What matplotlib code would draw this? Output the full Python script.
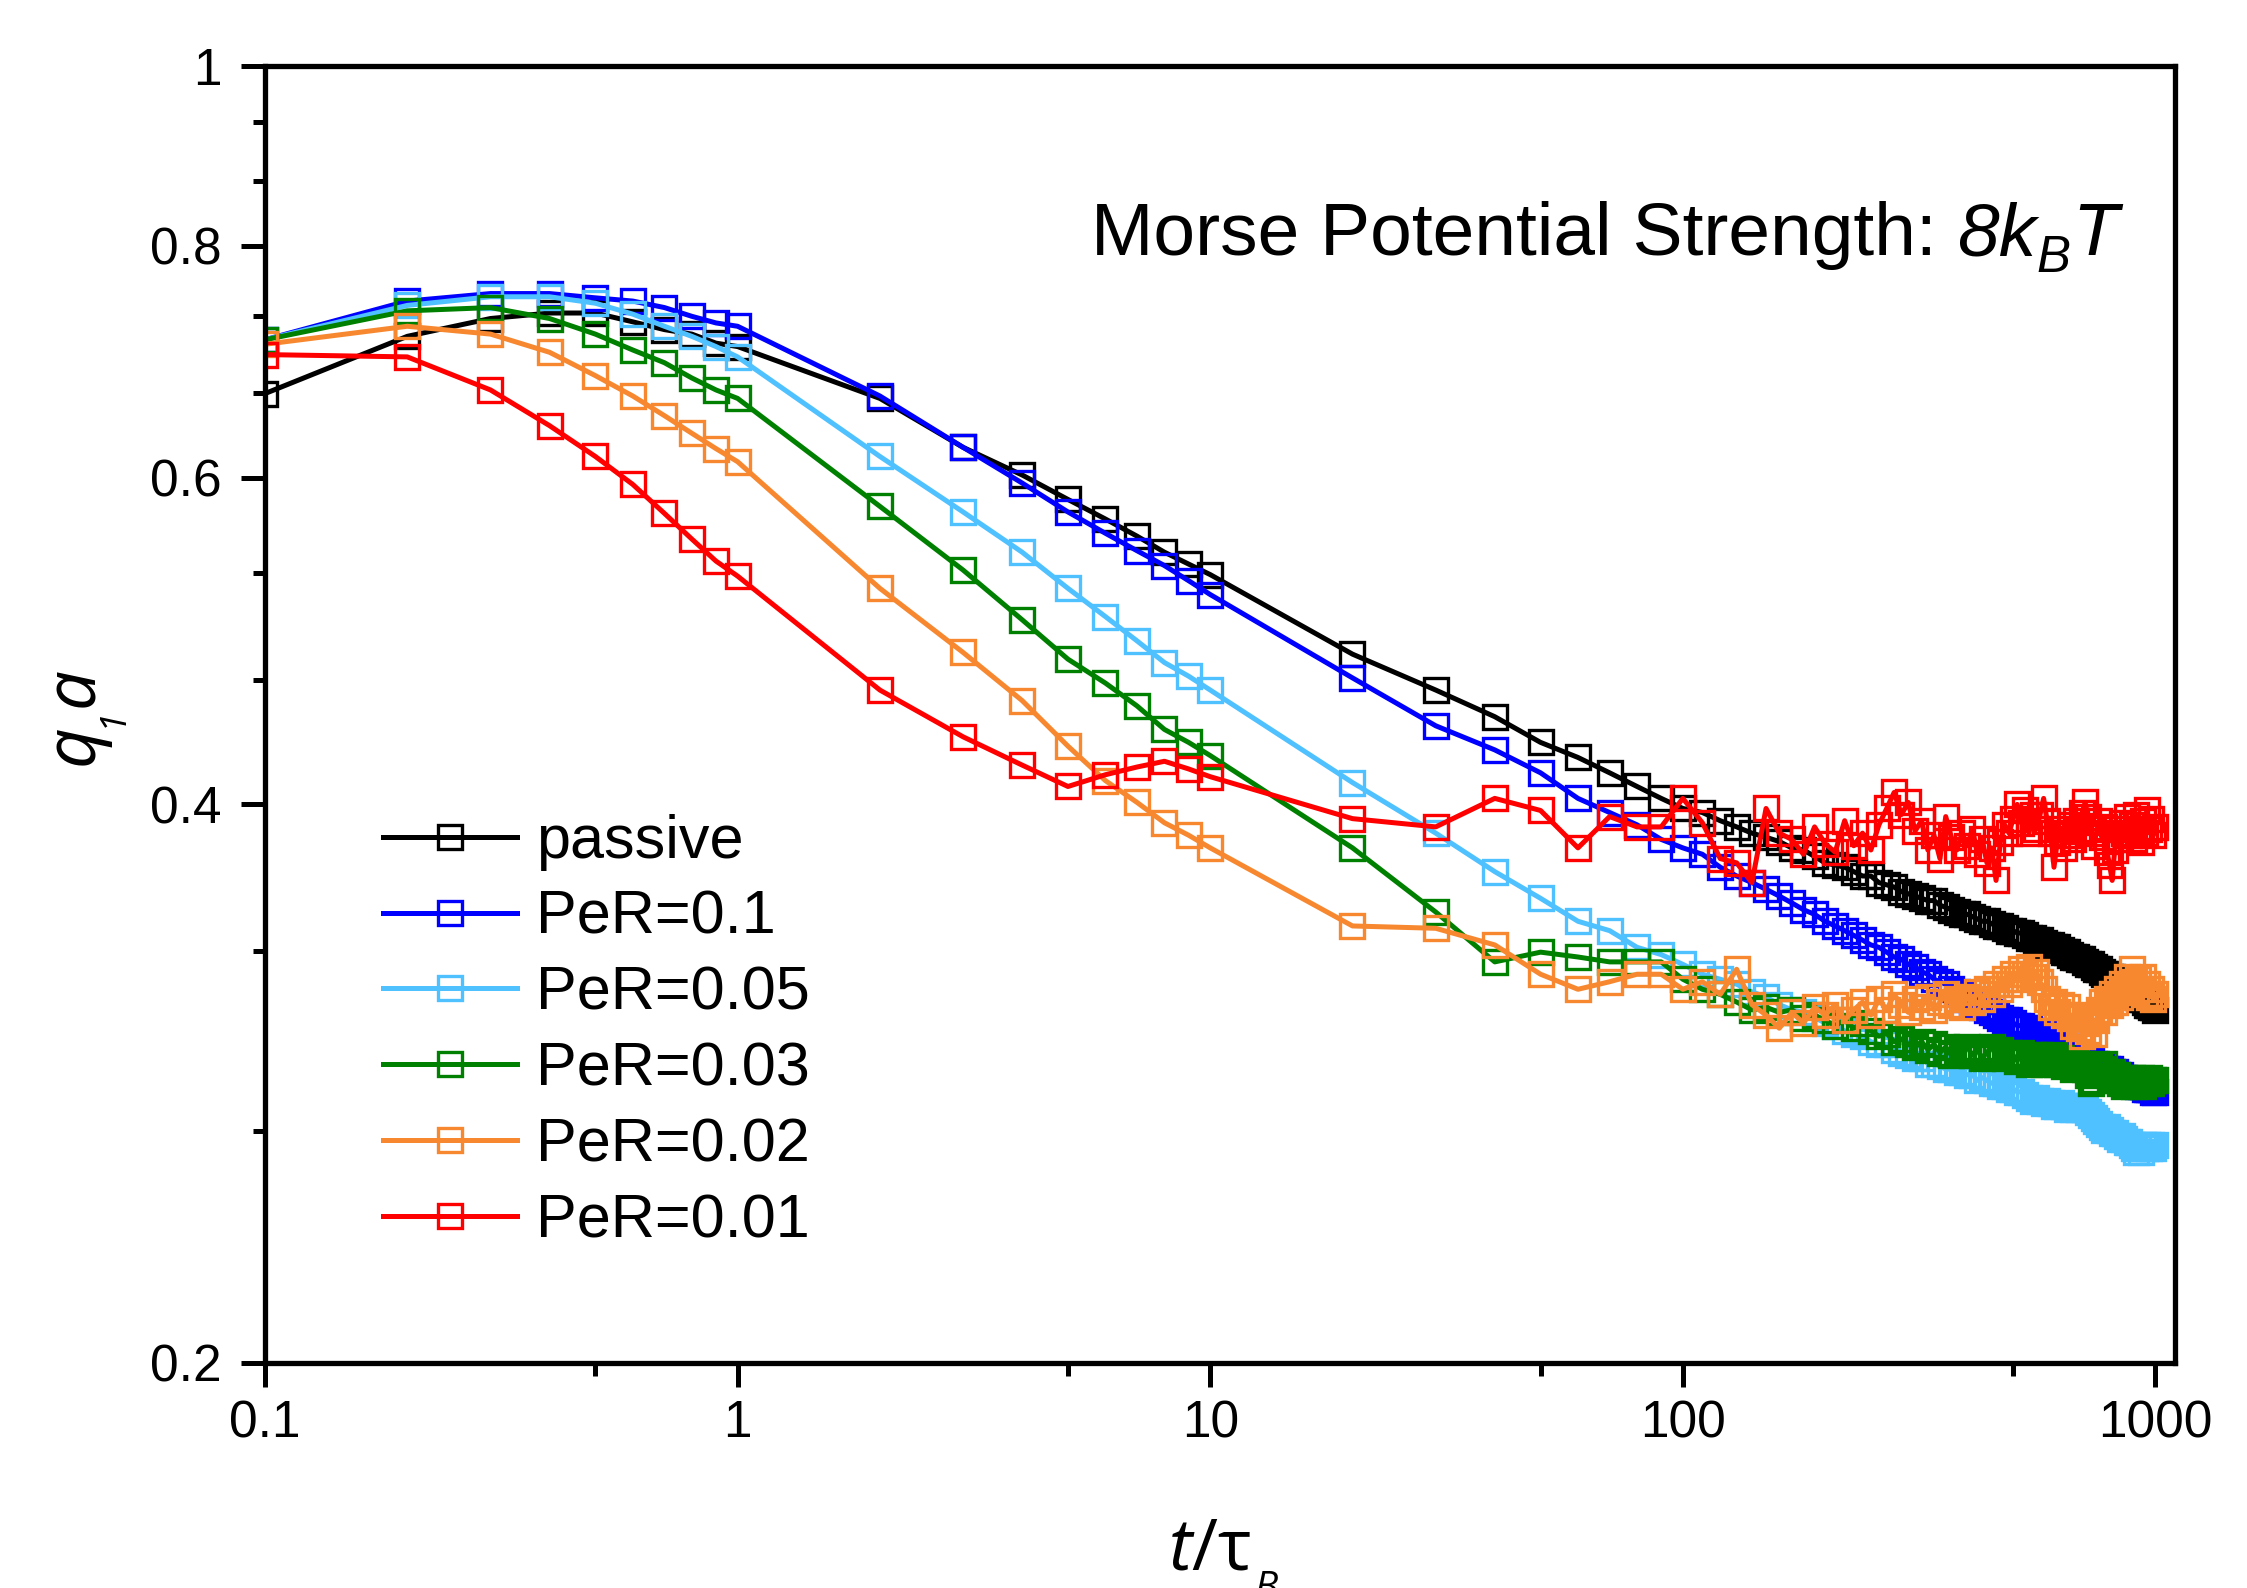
import matplotlib
matplotlib.use('Agg')
import matplotlib.pyplot as plt
from matplotlib.ticker import FixedLocator, FixedFormatter, NullFormatter

# ---------------- data ----------------
t = [0.1, 0.2, 0.3, 0.4, 0.5, 0.6, 0.7, 0.8, 0.9,
     1, 2, 3, 4, 5, 6, 7, 8, 9,
     10, 20, 30, 40, 50, 60, 70, 80, 90,
     100, 110, 120, 130, 140, 150, 160, 170, 180, 190,
     200, 210, 220, 230, 240, 250, 260, 270, 280, 290,
     300, 310, 320, 330, 340, 350, 360, 370, 380, 390,
     400, 410, 420, 430, 440, 450, 460, 470, 480, 490,
     500, 510, 520, 530, 540, 550, 560, 570, 580, 590,
     600, 610, 620, 630, 640, 650, 660, 670, 680, 690,
     700, 710, 720, 730, 740, 750, 760, 770, 780, 790,
     800, 810, 820, 830, 840, 850, 860, 870, 880, 890,
     900, 910, 920, 930, 940, 950, 960, 970, 980, 990,
     1000]

passive = [0.666, 0.715, 0.731, 0.736, 0.736, 0.728, 0.721, 0.717, 0.709,
           0.706, 0.662, 0.623, 0.602, 0.584, 0.570, 0.558, 0.547, 0.539,
           0.532, 0.482, 0.461, 0.446, 0.432, 0.424, 0.416, 0.409, 0.403,
           0.398, 0.396, 0.392, 0.389, 0.386, 0.384, 0.382, 0.379, 0.378, 0.375,
           0.372, 0.371, 0.370, 0.368, 0.366, 0.366, 0.363, 0.362, 0.361, 0.359,
           0.358, 0.357, 0.356, 0.355, 0.355, 0.353, 0.352, 0.351, 0.350, 0.349,
           0.349, 0.348, 0.347, 0.346, 0.346, 0.345, 0.344, 0.344, 0.343, 0.342,
           0.342, 0.341, 0.341, 0.340, 0.339, 0.339, 0.338, 0.338, 0.337, 0.336,
           0.336, 0.335, 0.335, 0.334, 0.333, 0.333, 0.332, 0.331, 0.331, 0.330,
           0.330, 0.329, 0.328, 0.328, 0.327, 0.326, 0.326, 0.325, 0.324, 0.324,
           0.323, 0.323, 0.322, 0.321, 0.320, 0.320, 0.319, 0.318, 0.318, 0.317,
           0.316, 0.316, 0.315, 0.314, 0.314, 0.313, 0.312, 0.312, 0.311, 0.311,
           0.310]

per_01 = [0.712, 0.747, 0.754, 0.754, 0.750, 0.747, 0.741, 0.733, 0.727,
          0.724, 0.664, 0.623, 0.596, 0.575, 0.560, 0.548, 0.538, 0.528,
          0.519, 0.468, 0.441, 0.428, 0.416, 0.403, 0.396, 0.390, 0.383,
          0.379, 0.376, 0.370, 0.366, 0.363, 0.360, 0.357, 0.354, 0.351, 0.349,
          0.346, 0.344, 0.342, 0.340, 0.338, 0.336, 0.335, 0.333, 0.331, 0.330,
          0.328, 0.327, 0.325, 0.324, 0.322, 0.321, 0.320, 0.318, 0.317, 0.316,
          0.314, 0.313, 0.312, 0.311, 0.310, 0.309, 0.308, 0.307, 0.306, 0.306,
          0.305, 0.304, 0.304, 0.303, 0.303, 0.302, 0.302, 0.301, 0.301, 0.300,
          0.300, 0.299, 0.299, 0.298, 0.297, 0.296, 0.296, 0.295, 0.294, 0.294,
          0.293, 0.292, 0.292, 0.291, 0.290, 0.290, 0.289, 0.289, 0.288, 0.288,
          0.288, 0.287, 0.287, 0.286, 0.286, 0.285, 0.285, 0.284, 0.284, 0.284,
          0.283, 0.283, 0.282, 0.282, 0.282, 0.281, 0.281, 0.281, 0.281, 0.280,
          0.280]

per_005 = [0.712, 0.743, 0.751, 0.751, 0.745, 0.735, 0.724, 0.715, 0.706,
           0.697, 0.616, 0.575, 0.547, 0.523, 0.505, 0.490, 0.477, 0.469,
           0.461, 0.411, 0.386, 0.368, 0.356, 0.346, 0.342, 0.335, 0.332,
           0.328, 0.324, 0.322, 0.320, 0.317, 0.315, 0.312, 0.310, 0.309, 0.307,
           0.305, 0.304, 0.302, 0.301, 0.300, 0.298, 0.297, 0.297, 0.295, 0.294,
           0.293, 0.292, 0.292, 0.290, 0.290, 0.289, 0.288, 0.288, 0.287, 0.287,
           0.286, 0.286, 0.284, 0.285, 0.284, 0.283, 0.283, 0.282, 0.282, 0.281,
           0.281, 0.280, 0.280, 0.279, 0.278, 0.277, 0.278, 0.277, 0.276, 0.277,
           0.276, 0.275, 0.275, 0.276, 0.275, 0.274, 0.275, 0.274, 0.275, 0.274,
           0.275, 0.274, 0.273, 0.272, 0.271, 0.270, 0.269, 0.268, 0.267, 0.268,
           0.267, 0.266, 0.266, 0.265, 0.264, 0.265, 0.264, 0.263, 0.263, 0.262,
           0.261, 0.260, 0.261, 0.260, 0.262, 0.261, 0.262, 0.261, 0.262, 0.261,
           0.262]

per_003 = [0.712, 0.738, 0.741, 0.731, 0.717, 0.703, 0.692, 0.679, 0.669,
           0.662, 0.579, 0.535, 0.503, 0.479, 0.465, 0.452, 0.439, 0.432,
           0.425, 0.379, 0.350, 0.329, 0.333, 0.331, 0.329, 0.329, 0.329,
           0.322, 0.318, 0.316, 0.313, 0.310, 0.311, 0.309, 0.310, 0.307, 0.308,
           0.306, 0.304, 0.306, 0.303, 0.305, 0.302, 0.300, 0.301, 0.298, 0.299,
           0.297, 0.296, 0.298, 0.295, 0.297, 0.294, 0.296, 0.293, 0.295, 0.294,
           0.296, 0.293, 0.295, 0.292, 0.294, 0.296, 0.293, 0.295, 0.292, 0.294,
           0.293, 0.291, 0.294, 0.292, 0.290, 0.293, 0.291, 0.293, 0.290, 0.292,
           0.291, 0.293, 0.290, 0.292, 0.289, 0.291, 0.290, 0.288, 0.291, 0.289,
           0.290, 0.288, 0.286, 0.283, 0.284, 0.287, 0.289, 0.288, 0.290, 0.287,
           0.285, 0.287, 0.284, 0.286, 0.283, 0.285, 0.282, 0.284, 0.283, 0.285,
           0.282, 0.284, 0.283, 0.285, 0.282, 0.284, 0.283, 0.285, 0.283, 0.284,
           0.284]

per_002 = [0.708, 0.724, 0.717, 0.701, 0.681, 0.664, 0.648, 0.634, 0.622,
           0.612, 0.523, 0.483, 0.455, 0.430, 0.412, 0.401, 0.391, 0.385,
           0.379, 0.344, 0.343, 0.336, 0.324, 0.318, 0.321, 0.324, 0.324,
           0.318, 0.321, 0.316, 0.326, 0.312, 0.308, 0.303, 0.309, 0.305, 0.311,
           0.308, 0.312, 0.306, 0.310, 0.313, 0.308, 0.314, 0.310, 0.316, 0.312,
           0.309, 0.314, 0.311, 0.315, 0.310, 0.313, 0.316, 0.312, 0.314, 0.311,
           0.315, 0.313, 0.317, 0.314, 0.318, 0.316, 0.320, 0.318, 0.322, 0.320,
           0.324, 0.322, 0.326, 0.324, 0.327, 0.323, 0.325, 0.321, 0.318, 0.314,
           0.311, 0.313, 0.309, 0.312, 0.308, 0.311, 0.307, 0.304, 0.308, 0.303,
           0.300, 0.305, 0.302, 0.307, 0.301, 0.306, 0.310, 0.313, 0.309, 0.314,
           0.312, 0.316, 0.313, 0.318, 0.315, 0.320, 0.317, 0.323, 0.319, 0.326,
           0.321, 0.317, 0.322, 0.318, 0.323, 0.316, 0.320, 0.315, 0.318, 0.314,
           0.316]

per_001 = [0.699, 0.697, 0.669, 0.640, 0.616, 0.595, 0.574, 0.556, 0.541,
           0.531, 0.461, 0.435, 0.420, 0.409, 0.415, 0.419, 0.422, 0.418,
           0.414, 0.393, 0.389, 0.403, 0.397, 0.379, 0.394, 0.389, 0.389,
           0.403, 0.391, 0.374, 0.372, 0.363, 0.398, 0.386, 0.383, 0.376, 0.389,
           0.381, 0.377, 0.392, 0.380, 0.386, 0.378, 0.390, 0.398, 0.406, 0.395,
           0.401, 0.387, 0.392, 0.378, 0.385, 0.374, 0.394, 0.384, 0.378, 0.386,
           0.380, 0.388, 0.376, 0.383, 0.372, 0.379, 0.364, 0.382, 0.390, 0.386,
           0.393, 0.400, 0.391, 0.397, 0.386, 0.395, 0.388, 0.395, 0.403, 0.392,
           0.386, 0.370, 0.382, 0.388, 0.379, 0.385, 0.390, 0.383, 0.392, 0.387,
           0.396, 0.401, 0.394, 0.388, 0.380, 0.386, 0.392, 0.384, 0.389, 0.377,
           0.371, 0.364, 0.378, 0.388, 0.383, 0.391, 0.386, 0.394, 0.385, 0.390,
           0.383, 0.395, 0.387, 0.382, 0.392, 0.386, 0.397, 0.388, 0.393, 0.385,
           0.389]

labels = ["passive", "PeR=0.1", "PeR=0.05", "PeR=0.03", "PeR=0.02", "PeR=0.01"]
colors = ["#000000", "#0000FF", "#4FC1FF", "#008000", "#F7882F", "#FF0000"]
series = [passive, per_01, per_005, per_003, per_002, per_001]

xticks = [0.1, 1, 10, 100, 1000]
xticklabels = ["0.1", "1", "10", "100", "1000"]
xminor = [0.5, 5, 50, 500]
yticks = [0.2, 0.4, 0.6, 0.8, 1.0]
yticklabels = ["0.2", "0.4", "0.6", "0.8", "1"]
yminor = [0.2667, 0.3333, 0.4667, 0.5333, 0.6667, 0.7333, 0.8667, 0.9333]

# ---------------- style ----------------
plt.rcParams['font.family'] = ['Liberation Sans', 'DejaVu Sans']
plt.rcParams['mathtext.fontset'] = 'custom'
plt.rcParams['mathtext.it'] = 'Open Sans:italic'
plt.rcParams['mathtext.rm'] = 'Open Sans'
plt.rcParams['mathtext.bf'] = 'Open Sans:bold'

W, H = 2247, 1588
fig = plt.figure(figsize=(W / 100, H / 100), dpi=100)
ax = fig.add_axes([265 / W, 1 - 1363 / H, (2175 - 265) / W, (1363 - 66) / H])

for y, lab, c in zip(series, labels, colors):
    ax.plot(t, y, color=c, lw=3.6, marker='s', markersize=17,
            markerfacecolor='none', markeredgecolor=c, markeredgewidth=2.4,
            label=lab)

ax.set_xscale('log')
ax.set_yscale('log')
ax.set_xlim(0.1, 1100)
ax.set_ylim(0.2, 1.0)

ax.xaxis.set_major_locator(FixedLocator(xticks))
ax.xaxis.set_major_formatter(FixedFormatter(xticklabels))
ax.xaxis.set_minor_locator(FixedLocator(xminor))
ax.xaxis.set_minor_formatter(NullFormatter())
ax.yaxis.set_major_locator(FixedLocator(yticks))
ax.yaxis.set_major_formatter(FixedFormatter(yticklabels))
ax.yaxis.set_minor_locator(FixedLocator(yminor))
ax.yaxis.set_minor_formatter(NullFormatter())

for s in ax.spines.values():
    s.set_linewidth(3.8)
ax.tick_params(which='major', direction='out', length=17, width=3.6,
               labelsize=37, top=False, right=False)
ax.tick_params(which='minor', direction='out', length=9, width=3.6,
               top=False, right=False)
ax.tick_params(axis='y', which='major', pad=14)
ax.tick_params(axis='x', which='major', pad=9)

leg = ax.legend(loc='upper left', bbox_to_anchor=(383 / W, 1 - 814 / H),
                bbox_transform=fig.transFigure, frameon=False, fontsize=44,
                handlelength=2.2, handletextpad=0.3, labelspacing=0.31,
                borderpad=0, borderaxespad=0, numpoints=1)

renderer = fig.canvas.get_renderer()
lab_size = 51
sub_size = 26

# x label: "t/tau" with a lowered subscript B (its lower part runs past the
# bottom edge, as in the original figure)
tx = fig.text(1168 / W, (H - 1570) / H, r"$t/\mathrm{\tau}$", ha='left',
              va='baseline', fontsize=lab_size)
bb = tx.get_window_extent(renderer)
fig.text((bb.x1 + 3) / W, (H - 1599) / H, "B", ha='left', va='baseline',
         fontsize=28, family='Open Sans', fontstyle='italic')

# y label: "q" + lowered subscript "1" + "a", rotated
xb = 93          # baseline x (pixels from left)
ys = H - 765     # start (bottom) y in pixels from bottom
tq = fig.text(xb / W, ys / H, "q", rotation=90, rotation_mode='anchor',
              ha='left', va='baseline', fontsize=lab_size, family='Open Sans',
              fontstyle='italic')
ys += tq.get_window_extent(renderer).height - 3
t1 = fig.text(122 / W, ys / H, "1", rotation=90, rotation_mode='anchor',
              ha='left', va='baseline', fontsize=sub_size, family='Open Sans',
              fontstyle='italic')
ys += t1.get_window_extent(renderer).height
fig.text(xb / W, ys / H, "a", rotation=90, rotation_mode='anchor',
         ha='left', va='baseline', fontsize=lab_size, family='Open Sans',
         fontstyle='italic')

# annotation text
xr = 2118
yb = H - 255
size = 54
tT = fig.text(xr / W, yb / H, "T", fontsize=size, fontstyle='italic',
              ha='right', va='baseline')
xr -= tT.get_window_extent(renderer).width + 2
tB = fig.text(xr / W, (yb - 17) / H, "B", fontsize=size * 0.68,
              fontstyle='italic', ha='right', va='baseline')
xr -= tB.get_window_extent(renderer).width
tk = fig.text(xr / W, yb / H, "8k", fontsize=size, fontstyle='italic',
              ha='right', va='baseline')
xr -= tk.get_window_extent(renderer).width + 20
fig.text(xr / W, yb / H, "Morse Potential Strength:", fontsize=size,
         ha='right', va='baseline')

fig.savefig("out.png", dpi=100)
